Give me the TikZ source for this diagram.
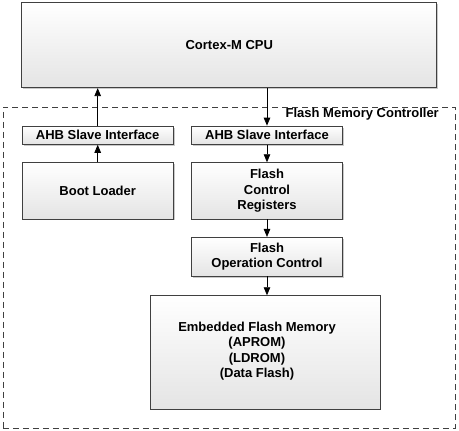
\documentclass[tikz,border=0pt]{standalone}
\usepackage{fontspec}
\setmainfont{Liberation Sans}
\usetikzlibrary{shadows,arrows.meta}
\definecolor{edge}{HTML}{404040}
\definecolor{fillend}{HTML}{E4E4E4}
\begin{document}
\begin{tikzpicture}[x=1pt,y=-1pt,
  font=\fontsize{13}{15.5}\selectfont\bfseries,
  box/.style={draw=edge, line width=0.8pt, top color=white, bottom color=fillend,
    shading angle=0, align=center, inner sep=0pt,
    drop shadow={shadow xshift=1.5pt, shadow yshift=-1.5pt, fill=gray!60, opacity=0.7}},
  arr/.style={draw=black, line width=0.8pt, -{Triangle[length=8pt,width=6.5pt]}},
  ctrl/.style={draw=edge, line width=0.8pt, dash pattern=on 6pt off 4pt}]
\useasboundingbox (0,0) rectangle (459,431);
\node[ctrl, minimum width=452pt, minimum height=321pt, inner sep=0pt] (fmc) at (229,267.5) {};
\node[anchor=east, inner sep=0pt] (fmclabel) at (439,114.5) {Flash Memory Controller};
\node[box, minimum width=415pt, minimum height=85pt] (cpu) at (229.3,45.2) {Cortex-M CPU};
\node[box, minimum width=151pt, minimum height=18.3pt] (ahbL) at (97.7,135.2) {AHB Slave Interface};
\node[box, minimum width=151pt, minimum height=18.3pt] (ahbR) at (267,135.2) {AHB Slave Interface};
\node[box, minimum width=151pt, minimum height=56.3pt] (boot) at (97.7,190.8) {Boot Loader};
\node[box, minimum width=151pt, minimum height=56.3pt] (fcr) at (267,190.8) {Flash\\Control\\Registers};
\node[box, minimum width=151pt, minimum height=38.7pt] (foc) at (267,256.7) {Flash\\Operation Control};
\node[box, minimum width=229.3pt, minimum height=113.3pt] (efm) at (265.3,352.3) {};
\node[align=center, inner sep=0pt] (efmtext) at (257,351) {Embedded Flash Memory\\(APROM)\\(LDROM)\\(Data Flash)};
\draw[arr] (ahbL.north) -- (ahbL.north |- cpu.south);
\draw[arr] (boot.north) -- (ahbL.south);
\draw[arr] (cpu.south -| ahbR.north) -- (ahbR.north);
\draw[arr] (ahbR.south) -- (fcr.north);
\draw[arr] (fcr.south) -- (foc.north);
\draw[arr] (foc.south) -- (foc.south |- efm.north);
\end{tikzpicture}
\end{document}
